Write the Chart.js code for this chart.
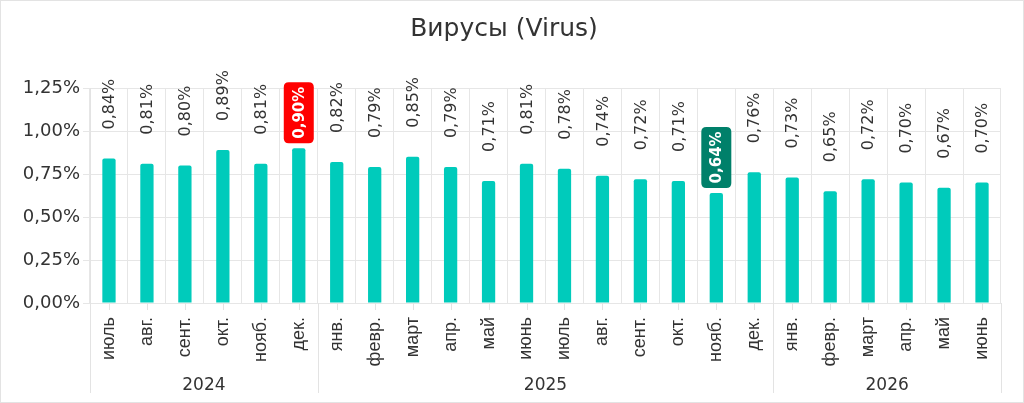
<!DOCTYPE html>
<html>
<head>
<meta charset="utf-8">
<script src="https://cdn.jsdelivr.net/npm/chart.js@4.4.1/dist/chart.umd.min.js"></script>
<style>
  html, body { margin: 0; padding: 0; background: #fff; }
  #wrap { position: relative; width: 1024px; height: 403px; box-sizing: border-box; border: 1px solid #e3e3e3; }
  canvas { position: absolute; left: -1px; top: -1px; }
</style>
</head>
<body>
<div id="wrap"><canvas id="virusChart" width="1024" height="403"></canvas></div>
<script>
var months = ['июль', 'авг.', 'сент.', 'окт.', 'нояб.', 'дек.',
              'янв.', 'февр.', 'март', 'апр.', 'май', 'июнь', 'июль', 'авг.', 'сент.', 'окт.', 'нояб.', 'дек.',
              'янв.', 'февр.', 'март', 'апр.', 'май', 'июнь'];
var virus_values = [0.84, 0.81, 0.80, 0.89, 0.81, 0.90,
                    0.82, 0.79, 0.85, 0.79, 0.71, 0.81, 0.78, 0.74, 0.72, 0.71, 0.64, 0.76,
                    0.73, 0.65, 0.72, 0.70, 0.67, 0.70];
var years = ['2024', '2025', '2026'];
var year_counts = [6, 12, 6];
var y_ticks = [0, 0.25, 0.5, 0.75, 1.0, 1.25];

var max_idx = virus_values.indexOf(Math.max.apply(null, virus_values));
var min_idx = virus_values.indexOf(Math.min.apply(null, virus_values));

var main_font = '"DejaVu Sans"';

function pct(v, digits) {
    return v.toFixed(digits).replace('.', ',') + '%';
}

function roundRect(ctx, x, y, w, h, r) {
    ctx.beginPath();
    ctx.moveTo(x + r, y);
    ctx.lineTo(x + w - r, y);
    ctx.quadraticCurveTo(x + w, y, x + w, y + r);
    ctx.lineTo(x + w, y + h - r);
    ctx.quadraticCurveTo(x + w, y + h, x + w - r, y + h);
    ctx.lineTo(x + r, y + h);
    ctx.quadraticCurveTo(x, y + h, x, y + h - r);
    ctx.lineTo(x, y + r);
    ctx.quadraticCurveTo(x, y, x + r, y);
    ctx.closePath();
}

// title, value labels, year row
var extras = {
    id: 'extras',
    afterDraw: function (chart) {
        var ctx = chart.ctx;
        var xs = chart.scales.x;
        var area = chart.chartArea;
        ctx.save();

        ctx.fillStyle = '#333';
        ctx.font = '25px ' + main_font;
        ctx.textAlign = 'center';
        ctx.textBaseline = 'middle';
        ctx.fillText('Вирусы (Virus)', 504, 29);

        // ticks at bar centres
        ctx.strokeStyle = '#e3e3e3';
        ctx.lineWidth = 1;
        for (var i = 0; i < months.length; i++) {
            var cx = Math.round(xs.getPixelForValue(i)) + 0.5;
            ctx.beginPath();
            ctx.moveTo(cx, area.bottom);
            ctx.lineTo(cx, area.bottom + 7);
            ctx.stroke();
        }

        // year separators + labels
        var half = (xs.getPixelForValue(1) - xs.getPixelForValue(0)) / 2;
        var start = 0;
        ctx.font = '17px ' + main_font;
        ctx.fillStyle = '#333';
        for (var k = 0; k < years.length; k++) {
            var x0 = xs.getPixelForValue(start) - half;
            var x1 = xs.getPixelForValue(start + year_counts[k] - 1) + half;
            [x0, x1].forEach(function (lx) {
                var px = Math.round(lx) + 0.5;
                ctx.beginPath();
                ctx.moveTo(px, area.bottom);
                ctx.lineTo(px, 393);
                ctx.stroke();
            });
            ctx.fillText(years[k], (x0 + x1) / 2, 386);
            start += year_counts[k];
        }

        // value labels
        var bars = chart.getDatasetMeta(0).data;
        bars.forEach(function (bar, i) {
            var txt = pct(virus_values[i], 2);
            ctx.save();
            if (i === max_idx || i === min_idx) {
                var bw = 30, bh = 61;
                var by = bar.y - 5 - bh;
                ctx.fillStyle = i === max_idx ? '#ff0000' : '#00806a';
                roundRect(ctx, bar.x - bw / 2, by, bw, bh, 5);
                ctx.fill();
                ctx.translate(bar.x, by + bh / 2);
                ctx.rotate(-Math.PI / 2);
                ctx.fillStyle = '#fff';
                ctx.font = 'bold 15px ' + main_font;
                ctx.textAlign = 'center';
                ctx.textBaseline = 'middle';
                ctx.fillText(txt, 0, 1);
            } else {
                ctx.translate(bar.x, bar.y - 29);
                ctx.rotate(-Math.PI / 2);
                ctx.fillStyle = '#333';
                ctx.font = '16px ' + main_font;
                ctx.textAlign = 'left';
                ctx.textBaseline = 'middle';
                ctx.fillText(txt, 0, 1);
            }
            ctx.restore();
        });
        ctx.restore();
    }
};

var virus_chart = new Chart(document.getElementById('virusChart'), {
    type: 'bar',
    data: {
        labels: months,
        datasets: [{
            data: virus_values,
            backgroundColor: '#00cbbb',
            borderRadius: { topLeft: 2, topRight: 2 },
            borderSkipped: 'bottom',
            barPercentage: 0.35,
            categoryPercentage: 1.0,
        }]
    },
    options: {
        responsive: false,
        animation: false,
        layout: {
            padding: { left: 0, right: 23, top: 88, bottom: 0 }
        },
        plugins: {
            legend: { display: false },
            tooltip: { enabled: false },
        },
        scales: {
            x: {
                grid: {
                    color: '#e6e6e6',
                    drawTicks: false,
                    offset: true,
                },
                border: { display: false },
                ticks: {
                    color: '#333',
                    font: { family: '"Liberation Sans", Arial', size: 18 },
                    maxRotation: 90,
                    minRotation: 90,
                    autoSkip: false,
                    padding: 14,
                },
                afterFit: function (scale) { scale.height = 100; }
            },
            y: {
                min: 0,
                max: 1.25,
                afterBuildTicks: function (scale) {
                    scale.ticks = y_ticks.map(function (v) { return { value: v }; });
                },
                grid: {
                    color: '#e6e6e6',
                    tickLength: 7,
                },
                border: { color: '#e3e3e3' },
                ticks: {
                    color: '#333',
                    font: { family: main_font, size: 18 },
                    padding: 3,
                    callback: function (v) { return pct(v, 2); }
                },
                afterFit: function (scale) { scale.width = 90; }
            }
        }
    },
    plugins: [extras]
});
</script>
</body>
</html>
